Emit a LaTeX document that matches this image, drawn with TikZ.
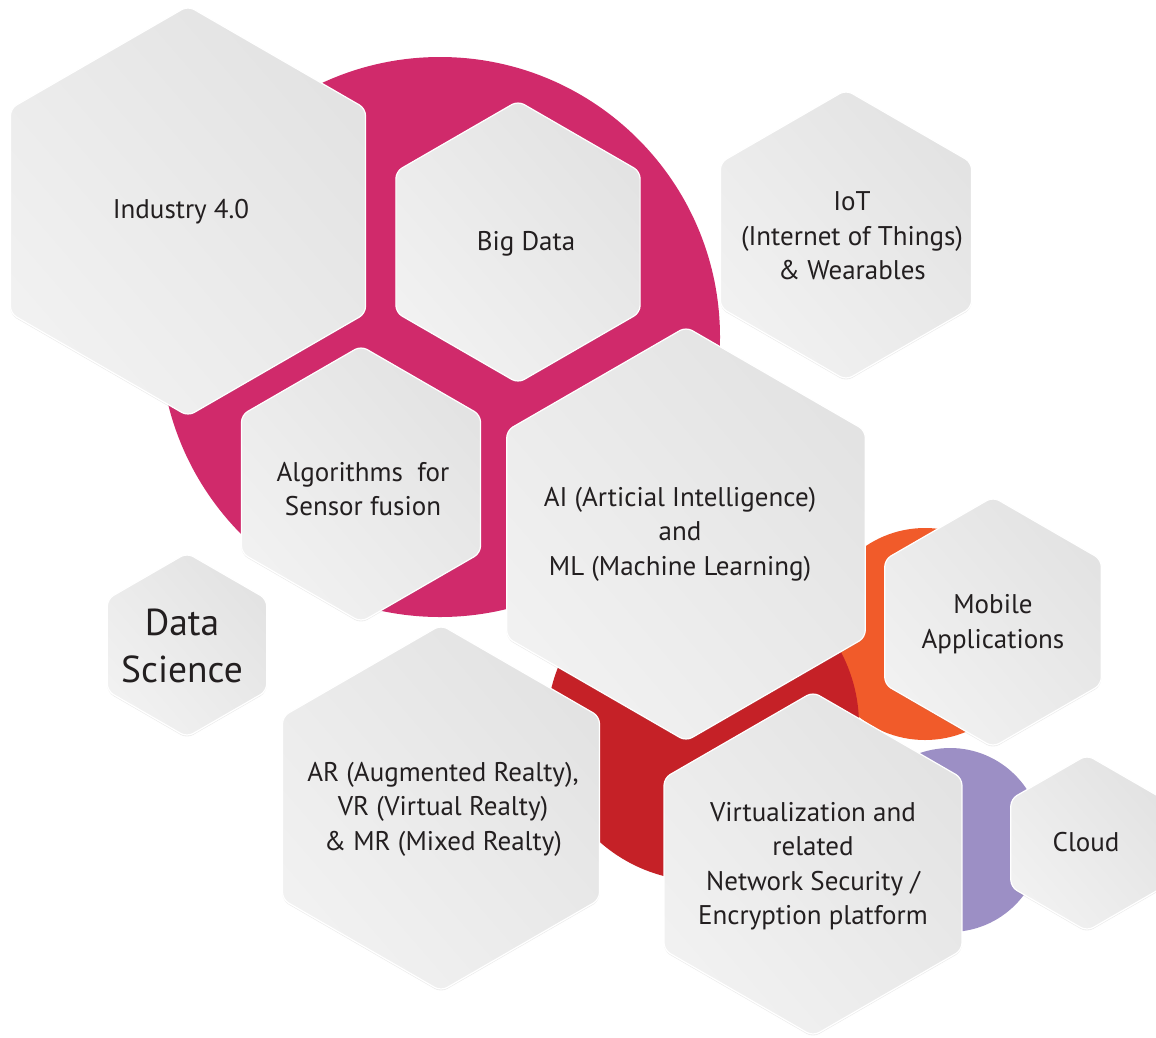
\documentclass[tikz,border=0pt]{standalone}
\usepackage{fontspec}
\setmainfont{PT Sans}
\usetikzlibrary{shadows,shadings}
\definecolor{magentaC}{HTML}{D02A6B}
\definecolor{redC}{HTML}{C52127}
\definecolor{orangeC}{HTML}{F15B2A}
\definecolor{purpleC}{HTML}{9C8FC5}
\definecolor{hexdark}{HTML}{E0E0E0}
\definecolor{hexlight}{HTML}{F4F4F4}
\definecolor{hexmid}{HTML}{EAEAEA}
\definecolor{txt}{HTML}{231F20}
\newcommand\hexshape[3]{%
  \shade[hexface] ([shift={(#1,#2)}]90:#3) -- ([shift={(#1,#2)}]150:#3) -- ([shift={(#1,#2)}]210:#3) -- ([shift={(#1,#2)}]270:#3) -- ([shift={(#1,#2)}]330:#3) -- ([shift={(#1,#2)}]30:#3) -- cycle;}
\begin{document}
\begin{tikzpicture}[x=1pt,y=-1pt,
  hexface/.style={upper right=hexdark, upper left=hexmid, lower right=hexmid, lower left=hexlight,
    draw=white, line width=1.2pt, rounded corners=7pt,
    drop shadow={opacity=0.15, shadow xshift=0pt, shadow yshift=-1.5pt}},
  lbl/.style={align=center, text=txt, inner sep=0pt, font=\fontsize{27}{34.5}\selectfont},
  big/.style={lbl, font=\fontsize{37.5}{47}\selectfont}]
\useasboundingbox (0,0) rectangle (1156,1037);
% coloured discs
\fill[orangeC] (925,634) circle (106);
\fill[redC] (703,725) circle (156);
\fill[purpleC] (950,840) circle (92);
\fill[magentaC] (440,337) circle (280);
% hexagons
\hexshape{188}{211}{205}
\hexshape{518}{242}{141}
\hexshape{846}{235}{145}
\hexshape{361}{484}{138}
\hexshape{686}{534}{207}
\hexshape{187}{645}{92}
\hexshape{441}{808}{183}
\hexshape{993}{622}{125}
\hexshape{813}{864}{172}
\hexshape{1087}{843}{88}
% labels
\node[lbl] (ind) at (181,212) {Industry 4.0};
\node[lbl] (bd) at (526,244) {Big Data};
\node[lbl] (iot) at (852,236) {IoT\\(Internet of Things)\\\& Wearables};
\node[lbl] (alg) at (363,489) {Algorithms~ for\\Sensor fusion};
\node[lbl] (ai) at (680,534) {AI (Articial Intelligence)\\and\\ML (Machine Learning)};
\node[big] (ds) at (182,646) {Data\\Science};
\node[lbl] (mob) at (993,624) {Mobile\\Applications};
\node[lbl] (ar) at (443,809) {AR (Augmented Realty),\\VR (Virtual Realty)\\\& MR (Mixed Realty)};
\node[lbl] (virt) at (813,866) {Virtualization and\\related\\Network Security /\\Encryption platform};
\node[lbl] (cloud) at (1086,842) {Cloud};
\end{tikzpicture}
\end{document}
